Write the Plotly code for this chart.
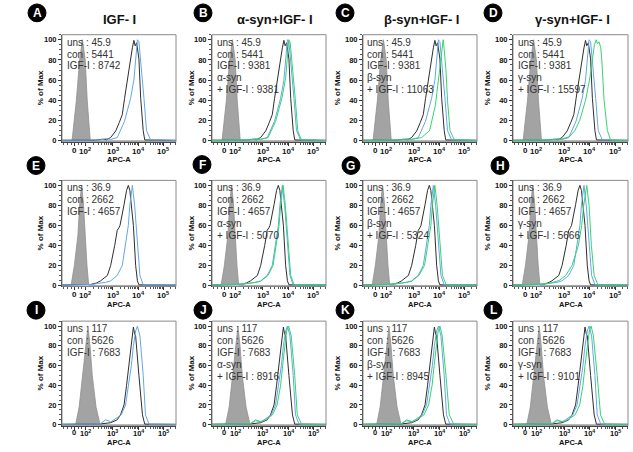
import numpy as np
import plotly.graph_objects as go

W, H = 633, 452

# ---------------- data ----------------
panel_letters = ["A", "B", "C", "D", "E", "F", "G", "H", "I", "J", "K", "L"]
column_titles = ["IGF- I", "α-syn+IGF- I", "β-syn+IGF- I", "γ-syn+IGF- I"]
syn_names = [None, "α-syn", "β-syn", "γ-syn"]

uns_mfi = ["45.9", "36.9", "117"]
con_mfi = ["5441", "2662", "5626"]
igf_mfi_col1 = ["8742", "4657", "7683"]
igf_mfi_other = ["9381", "4657", "7683"]
syn_mfi = [["9381", "11063", "15597"],
           ["5070", "5324", "5666"],
           ["8916", "8945", "9101"]]

x_tick_vals = [1.46, 1.90, 3, 4, 5]
x_tick_text = ["0", "10<sup>2</sup>", "10<sup>3</sup>", "10<sup>4</sup>", "10<sup>5</sup>"]
y_tick_vals = [0, 20, 40, 60, 80, 100]
x_range = [0.98, 5.5]
y_range = [-1, 105]

# histogram curves: x in axis display units (decades), y in % of max
# row 1 (shared by A-D)
r1_uns_x = [0.98, 1.38, 1.42, 1.55, 1.68, 1.75, 1.79, 1.83, 1.90, 1.98, 2.06, 2.10, 5.5]
r1_uns_y = [0, 0, 10, 40, 80, 94, 100, 93, 80, 40, 10, 0, 0]
r1_con_x = [0.98, 2.3, 2.6, 2.75, 2.91, 3.11, 3.25, 3.37, 3.46, 3.59, 3.70, 3.77, 3.83, 3.88, 3.94, 4.03, 4.10, 4.20, 4.26, 5.5]
r1_con_y = [0.5, 0.6, 1.5, 1.0, 3.2, 9.7, 18, 25.8, 41.9, 64.5, 79.7, 92, 99.4, 94, 97, 81, 42, 10, 0.8, 0.4]
r1_igf_x = [0.98, 2.5, 2.75, 2.9, 3.17, 3.46, 3.70, 3.83, 3.90, 3.97, 4.03, 4.10, 4.23, 4.33, 4.49, 5.5]
r1_igf_y = [0.4, 0.8, 2.2, 1.2, 3, 19.4, 42, 60, 80, 100, 98, 80, 42, 10, 1, 0.4]
# row 2 (shared by E-H)
r2_uns_x = [0.98, 1.34, 1.47, 1.61, 1.69, 1.76, 1.83, 1.90, 1.97, 2.04, 5.5]
r2_uns_y = [0, 0, 20, 50, 85, 100, 82, 50, 20, 0, 0]
r2_con_x = [0.98, 2.12, 2.35, 2.51, 2.78, 2.91, 3.07, 3.17, 3.24, 3.28, 3.44, 3.54, 3.61, 3.67, 3.81, 3.90, 3.97, 4.03, 5.5]
r2_con_y = [0.5, 1.0, 2.5, 4.6, 10, 20, 40, 55, 57.9, 60, 80.7, 95, 100, 95, 60, 20, 4.6, 0.6, 0.4]
r2_igf_x = [0.98, 2.2, 2.38, 2.7, 2.91, 3.17, 3.37, 3.50, 3.61, 3.67, 3.77, 3.86, 3.97, 4.07, 4.20, 5.5]
r2_igf_y = [0.4, 1.0, 2, 3, 4.6, 10, 20, 40, 60, 80, 100, 80, 40, 10, 0.6, 0.4]
# row 3 (shared by I-L)
r3_uns_x = [0.98, 1.52, 1.66, 1.80, 1.92, 2.01, 2.09, 2.18, 2.33, 2.49, 5.5]
r3_uns_y = [0, 0, 18, 50, 80, 100, 80, 50, 18, 0, 0]
r3_con_x = [0.98, 2.5, 2.91, 3.17, 3.30, 3.44, 3.54, 3.63, 3.70, 3.81, 3.86, 3.90, 4.03, 4.17, 4.26, 5.5]
r3_con_y = [0.5, 0.8, 2, 5, 10, 20, 40, 60, 80, 99, 92, 90, 50, 10, 0.6, 0.4]
r3_igf_x = [0.98, 2.5, 2.71, 2.91, 3.04, 3.33, 3.50, 3.63, 3.73, 3.81, 3.90, 3.97, 4.07, 4.20, 4.29, 4.43, 5.5]
r3_igf_y = [0.4, 1.0, 5, 3, 5, 10, 20, 40, 60, 80, 95, 100, 90, 50, 10, 0.6, 0.4]

# syn + IGF-I curves (one per panel B-D, F-H, J-L)
b_syn_x = [0.98, 2.8, 3.2, 3.5, 3.75, 3.90, 3.96, 4.02, 4.08, 4.15, 4.28, 4.38, 4.52, 5.5]
b_syn_y = [0.3, 1, 3, 19, 42, 62, 80, 100, 97, 80, 42, 10, 1, 0.3]
c_syn_x = [0.98, 2.8, 3.3, 3.62, 3.85, 3.97, 4.05, 4.11, 4.16, 4.20, 4.27, 4.33, 4.43, 4.60, 5.5]
c_syn_y = [0.3, 1, 3, 10, 35, 60, 80, 95, 100, 90, 70, 40, 10, 1, 0.3]
d_syn_x = [0.98, 2.8, 3.2, 3.41, 3.60, 3.83, 4.00, 4.11, 4.18, 4.25, 4.30, 4.36, 4.43, 4.47, 4.56, 4.69, 4.82, 5.5]
d_syn_y = [0.3, 1, 4, 10, 20, 40, 62, 80, 95, 100, 96, 98, 92, 80, 40, 10, 0.5, 0.3]
f_syn_x = [0.98, 2.4, 2.9, 3.2, 3.40, 3.53, 3.64, 3.70, 3.80, 3.89, 4.00, 4.10, 4.24, 5.5]
f_syn_y = [0.3, 2, 4, 10, 20, 40, 60, 80, 100, 80, 40, 10, 0.5, 0.3]
g_syn_x = [0.98, 2.4, 2.9, 3.2, 3.42, 3.56, 3.67, 3.73, 3.83, 3.92, 4.03, 4.13, 4.28, 5.5]
g_syn_y = [0.3, 2, 4, 10, 20, 40, 60, 80, 100, 80, 40, 10, 0.5, 0.3]
h_syn_x = [0.98, 2.4, 2.8, 3.05, 3.30, 3.55, 3.68, 3.76, 3.88, 3.97, 4.06, 4.17, 4.32, 5.5]
h_syn_y = [0.3, 2, 5, 10, 20, 40, 60, 80, 100, 80, 40, 10, 0.5, 0.3]
j_syn_x = [0.98, 2.5, 2.71, 2.95, 3.10, 3.38, 3.56, 3.70, 3.78, 3.86, 3.94, 4.02, 4.12, 4.26, 4.36, 4.53, 5.5]
j_syn_y = [0.3, 1, 4, 3, 5, 10, 20, 40, 60, 80, 95, 100, 90, 50, 10, 0.5, 0.3]
k_syn_x = [0.98, 2.5, 2.70, 2.95, 3.10, 3.40, 3.58, 3.72, 3.80, 3.88, 3.96, 4.03, 4.12, 4.27, 4.40, 4.58, 5.5]
k_syn_y = [0.3, 1, 4, 3, 5, 10, 20, 40, 60, 80, 95, 100, 90, 50, 10, 0.5, 0.3]
l_syn_x = [0.98, 2.5, 2.72, 2.97, 3.12, 3.42, 3.60, 3.73, 3.81, 3.90, 3.98, 4.05, 4.14, 4.29, 4.42, 4.58, 5.5]
l_syn_y = [0.3, 1, 4, 3, 5, 10, 20, 40, 60, 80, 95, 100, 90, 50, 10, 0.5, 0.3]

row_shared = [
    (r1_uns_x, r1_uns_y, r1_con_x, r1_con_y, r1_igf_x, r1_igf_y),
    (r2_uns_x, r2_uns_y, r2_con_x, r2_con_y, r2_igf_x, r2_igf_y),
    (r3_uns_x, r3_uns_y, r3_con_x, r3_con_y, r3_igf_x, r3_igf_y),
]
syn_curves = [
    [(b_syn_x, b_syn_y), (c_syn_x, c_syn_y), (d_syn_x, d_syn_y)],
    [(f_syn_x, f_syn_y), (g_syn_x, g_syn_y), (h_syn_x, h_syn_y)],
    [(j_syn_x, j_syn_y), (k_syn_x, k_syn_y), (l_syn_x, l_syn_y)],
]

# ---------------- layout geometry (pixels) ----------------
col_px = [(62, 176), (212, 326), (363, 477), (513, 628)]
row_px = [(35, 143), (182, 289), (324, 429.5)]
tick_dy = [3.0, 3.0, 1.5]
tick_size = [8, 8, 7.5]
apc_bottom = [166, 312.5, 452.5]
title_x = [119, 275, 421, 572]
letter_pos = [[(37, 13), (203, 13), (345, 13), (493, 13)],
              [(36, 167), (202, 166), (351, 167), (500, 167)],
              [(36, 313), (203, 313), (345, 313), (493, 313)]]
ylabel_dx = [22, 21, 26, 26]

FONT = "Arial, Liberation Sans, sans-serif"
GRAY_FILL = "#a3a3a3"
BLACK = "#2e2e2e"
BLUE = "#62a6ea"
GREEN = "#35d46e"

# minor ticks on x (biexponential-like display)
x_minor = []
for m in range(2, 10):
    x_minor.append(1.90 + 1.10 * np.log10(m))
    x_minor.append(3 + np.log10(m))
    x_minor.append(4 + np.log10(m))
for m in (2, 3):
    x_minor.append(5 + np.log10(m))
x_minor += [1.05, 1.2, 1.35, 1.62, 1.75]

fig = go.Figure()
annotations = []
shapes = []

def px_x(p):
    return p / W

def px_y(p):
    return 1 - p / H

for r in range(3):
    ux, uy, cx_, cy_, ix, iy = row_shared[r]
    for c in range(4):
        n = r * 4 + c + 1
        xa = "x" if n == 1 else f"x{n}"
        ya = "y" if n == 1 else f"y{n}"
        fig.add_trace(go.Scatter(x=ux, y=uy, mode="lines", fill="tozeroy",
                                 fillcolor=GRAY_FILL, line=dict(color="#8f8f8f", width=0.8),
                                 xaxis=xa, yaxis=ya, showlegend=False, hoverinfo="skip"))
        fig.add_trace(go.Scatter(x=cx_, y=cy_, mode="lines", line=dict(color=BLACK, width=1),
                                 xaxis=xa, yaxis=ya, showlegend=False, hoverinfo="skip"))
        fig.add_trace(go.Scatter(x=ix, y=iy, mode="lines", line=dict(color=BLUE, width=1),
                                 xaxis=xa, yaxis=ya, showlegend=False, hoverinfo="skip"))
        if c > 0:
            sx, sy = syn_curves[r][c - 1]
            fig.add_trace(go.Scatter(x=sx, y=sy, mode="lines", line=dict(color=GREEN, width=1),
                                     xaxis=xa, yaxis=ya, showlegend=False, hoverinfo="skip"))

        x0, x1 = col_px[c]
        y0, y1 = row_px[r]
        xname = "xaxis" if n == 1 else f"xaxis{n}"
        yname = "yaxis" if n == 1 else f"yaxis{n}"
        fig.layout[xname] = dict(
            domain=[px_x(x0), px_x(x1)], range=x_range, anchor=ya,
            tickmode="array", tickvals=x_tick_vals, showticklabels=False,
            ticks="outside", ticklen=3, tickwidth=1, tickcolor="#333",
            showline=True, linecolor="#333", linewidth=1, mirror=False,
            showgrid=False, zeroline=False, fixedrange=True,
            minor=dict(tickmode="array", tickvals=x_minor, ticks="outside",
                       ticklen=2, tickcolor="#555", tickwidth=1),
        )
        fig.layout[yname] = dict(
            domain=[px_y(y1), px_y(y0)], range=y_range, anchor=xa,
            tickmode="array", tickvals=y_tick_vals,
            ticks="outside", ticklen=3, tickwidth=1, tickcolor="#333",
            tickfont=dict(family=FONT, size=7.5, color="#111", weight="bold"),
            showline=True, linecolor="#333", linewidth=1, mirror=False,
            showgrid=False, zeroline=False, fixedrange=True,
            minor=dict(dtick=5, ticks="outside", ticklen=2, tickcolor="#555", tickwidth=1),
        )
        # light box around plot
        shapes.append(dict(type="rect", xref=f"{xa} domain", yref=f"{ya} domain",
                           x0=0, x1=1, y0=0, y1=1, line=dict(color="#8a8a8a", width=1),
                           layer="above"))

        # x tick labels (positioned through the x axis scale)
        for tv, tt in zip(x_tick_vals, x_tick_text):
            annotations.append(dict(text=f"<b>{tt}</b>", xref=xa, yref="paper",
                                    x=tv, y=px_y(y1 + tick_dy[r]), xanchor="center", yanchor="top",
                                    showarrow=False, borderpad=0,
                                    font=dict(family=FONT, size=tick_size[r], color="#111")))

        # text lines inside panel
        igf_val = igf_mfi_col1[r] if c == 0 else igf_mfi_other[r]
        lines = [f"uns : {uns_mfi[r]}", f"con : {con_mfi[r]}", f"IGF-I : {igf_val}"]
        if c > 0:
            lines += [syn_names[c], f"+ IGF-I : {syn_mfi[r][c - 1]}"]
        for k, t in enumerate(lines):
            annotations.append(dict(text=t, xref="paper", yref="paper",
                                    x=px_x(x0 + 2.5), y=px_y(y0 + 7.5 + 12 * k),
                                    xanchor="left", yanchor="middle", showarrow=False,
                                    font=dict(family=FONT, size=10, color="#333")))
        # APC-A label
        annotations.append(dict(text="<b>APC-A</b>", xref="paper", yref="paper",
                                x=px_x((x0 + x1) / 2), y=px_y(apc_bottom[r]),
                                xanchor="center", yanchor="bottom", showarrow=False,
                                borderpad=0,
                                font=dict(family=FONT, size=7.5, color="#111")))
        # % of Max label
        annotations.append(dict(text="<b>% of Max</b>", xref="paper", yref="paper",
                                x=px_x(x0 - ylabel_dx[c]), y=px_y((y0 + y1) / 2),
                                xanchor="center", yanchor="middle", textangle=-90,
                                showarrow=False,
                                font=dict(family=FONT, size=8, color="#111")))
        # panel letter circle
        lx, ly = letter_pos[r][c]
        shapes.append(dict(type="circle", xref="paper", yref="paper",
                           x0=px_x(lx - 9), x1=px_x(lx + 9),
                           y0=px_y(ly + 9), y1=px_y(ly - 9),
                           fillcolor="black", line=dict(color="black", width=1)))
        annotations.append(dict(text=f"<b>{panel_letters[n - 1]}</b>", xref="paper", yref="paper",
                                x=px_x(lx), y=px_y(ly), xanchor="center", yanchor="middle",
                                showarrow=False, font=dict(family=FONT, size=12, color="white")))

for c in range(4):
    annotations.append(dict(text=f"<b>{column_titles[c]}</b>", xref="paper", yref="paper",
                            x=px_x(title_x[c]), y=px_y(20), xanchor="center", yanchor="middle",
                            showarrow=False, font=dict(family=FONT, size=13, color="#111")))

fig.update_layout(width=W, height=H, margin=dict(l=0, r=0, t=0, b=0),
                  paper_bgcolor="white", plot_bgcolor="white",
                  annotations=annotations, shapes=shapes, showlegend=False)

fig.write_html("out.html")
